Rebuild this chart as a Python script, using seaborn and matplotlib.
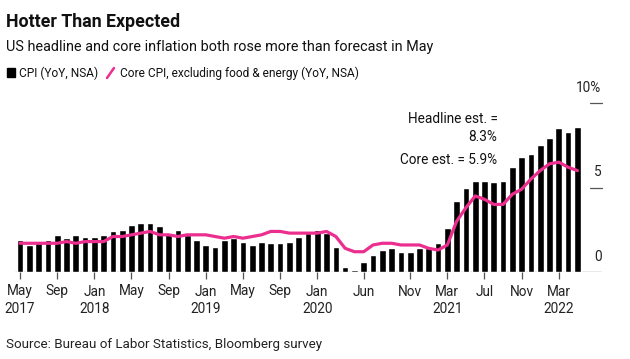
import numpy as np
import pandas as pd
import matplotlib
matplotlib.use("Agg")
import matplotlib.pyplot as plt
import seaborn as sns
from matplotlib.patches import Rectangle
from matplotlib.lines import Line2D

# monthly data, May 2017 .. May 2022
months = pd.date_range("2017-05-01", "2022-05-01", freq="MS")

cpi = [
    1.9, 1.6, 1.7, 1.9, 2.2, 2.0, 2.2, 2.1,
    2.1, 2.2, 2.4, 2.5, 2.8, 2.9, 2.9, 2.7, 2.3, 2.5, 2.2, 1.9,
    1.6, 1.5, 1.9, 2.0, 1.8, 1.6, 1.8, 1.7, 1.7, 1.8, 2.1, 2.3,
    2.5, 2.3, 1.5, 0.3, 0.1, 0.6, 1.0, 1.3, 1.4, 1.2, 1.2, 1.4,
    1.4, 1.7, 2.6, 4.2, 5.0, 5.4, 5.4, 5.3, 5.4, 6.2, 6.8, 7.0,
    7.5, 7.9, 8.5, 8.3, 8.6,
]
core = [
    1.7, 1.7, 1.7, 1.7, 1.7, 1.8, 1.7, 1.8,
    1.8, 1.8, 2.1, 2.1, 2.2, 2.3, 2.4, 2.2, 2.2, 2.1, 2.2, 2.2,
    2.2, 2.1, 2.0, 2.1, 2.0, 2.1, 2.2, 2.4, 2.4, 2.3, 2.3, 2.3,
    2.3, 2.4, 2.1, 1.4, 1.2, 1.2, 1.6, 1.7, 1.7, 1.6, 1.6, 1.6,
    1.4, 1.3, 1.6, 3.0, 3.8, 4.5, 4.3, 4.0, 4.0, 4.6, 4.9, 5.5,
    6.0, 6.4, 6.5, 6.2, 6.0,
]

tick_months = ["2017-05", "2017-09", "2018-01", "2018-05", "2018-09", "2019-01",
               "2019-05", "2019-09", "2020-01", "2020-06", "2020-11", "2021-03",
               "2021-07", "2021-11", "2022-03"]
tick_labels = ["May\n2017", "Sep", "Jan\n2018", "May", "Sep", "Jan\n2019",
               "May", "Sep", "Jan\n2020", "Jun", "Nov", "Mar\n2021",
               "Jul", "Nov", "Mar\n2022"]
y_ticks = [0, 5, 10]
y_labels = ["0", "5", "10%"]

PINK = "#ec2f8f"
GREY = "#555555"

df = pd.DataFrame({"month": months, "cpi": cpi, "core": core})
df["idx"] = np.arange(len(df))

sns.set_theme(style="white")
plt.rcParams["font.family"] = ["Roboto", "DejaVu Sans"]

fig = plt.figure(figsize=(6.3, 3.59), dpi=100)
ax = fig.add_axes([15 / 630, 1 - 272 / 359, (602 - 15) / 630, (272 - 103) / 359])

sns.barplot(data=df, x="idx", y="cpi", color="black", saturation=1,
            width=0.72, native_scale=True, ax=ax)
sns.lineplot(data=df, x="idx", y="core", color=PINK, linewidth=2.3, ax=ax)

ax.set_xlim(-0.54, 62.65)
ax.set_ylim(0, 10)
sns.despine(ax=ax, left=True, right=True, top=True, bottom=True)
ax.axhline(0, color=GREY, linewidth=0.9, zorder=0)

tick_pos = [df.index[df["month"] == pd.Timestamp(m + "-01")][0] for m in tick_months]
ax.set_xticks(tick_pos)
ax.set_xticklabels(tick_labels, fontsize=9.8, color="#222222", linespacing=1.3)
ax.tick_params(axis="x", bottom=True, length=5, width=0.9, color=GREY, pad=4)
ax.set_yticks([])
ax.set_xlabel("")
ax.set_ylabel("")

# right-side value labels with short rules under them
ytr = ax.get_yaxis_transform()
for v, lab in zip(y_ticks, y_labels):
    ax.text(0.999, v + 0.5, lab, transform=ytr, ha="right", va="bottom",
            fontsize=9.8, color="#222222", clip_on=False)
    if v > 0:
        ax.plot([0.980, 1.0], [v, v], transform=ytr, color=GREY,
                linewidth=0.9, clip_on=False)

ax.text(51.4, 9.45, "Headline est. =\n8.3%", ha="right", va="top",
        fontsize=9.8, color="#111111", linespacing=1.3)
ax.text(51.4, 6.6, "Core est. = 5.9%", ha="right", va="center",
        fontsize=9.8, color="#111111")

# titles and legend
fig.text(6 / 630, 1 - 27 / 359, "Hotter Than Expected", fontsize=12.8,
         fontweight="bold", color="#111111", va="baseline")
fig.text(6 / 630, 1 - 51 / 359, "US headline and core inflation both rose more than forecast in May",
         fontsize=10.4, color="#111111", va="baseline")
fig.patches.append(Rectangle((7 / 630, 1 - 77 / 359), 8 / 630, 9 / 359,
                             transform=fig.transFigure, color="black"))
fig.text(19 / 630, 1 - 77 / 359, "CPI (YoY, NSA)", fontsize=8.6, color="#111111",
         va="baseline")
fig.lines.append(Line2D([107 / 630, 114 / 630], [1 - 78 / 359, 1 - 68 / 359],
                        transform=fig.transFigure, color=PINK, linewidth=1.8))
fig.text(120 / 630, 1 - 77 / 359, "Core CPI, excluding food & energy (YoY, NSA)",
         fontsize=8.6, color="#111111", va="baseline")
fig.text(6 / 630, 1 - 348 / 359, "Source: Bureau of Labor Statistics, Bloomberg survey",
         fontsize=9.6, color="#222222", va="baseline")

fig.savefig("out.png", dpi=100)
